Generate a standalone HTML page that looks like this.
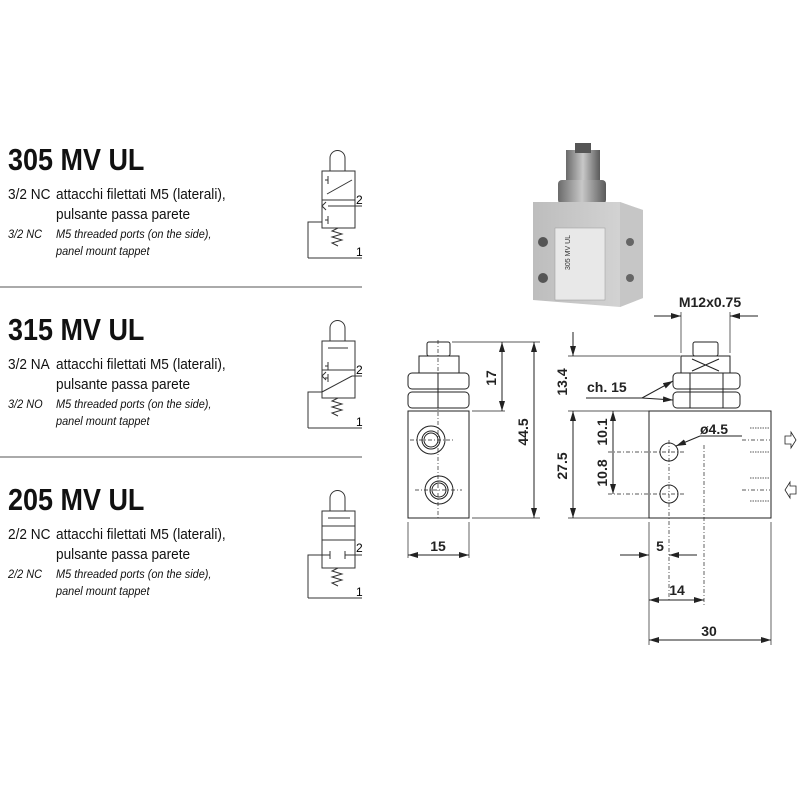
<!DOCTYPE html>
<html><head><meta charset="utf-8"><style>
html,body{margin:0;padding:0;background:#fff;}
body{width:800px;height:800px;position:relative;overflow:hidden;font-family:"Liberation Sans Narrow","Liberation Sans",sans-serif;color:#111;}
.t{position:absolute;left:8px;font-weight:bold;font-size:31px;letter-spacing:0px;transform:scaleX(0.87);transform-origin:left;}
.l{position:absolute;font-size:14.5px;white-space:nowrap;transform:scaleX(0.94);transform-origin:left;}
.i{position:absolute;font-size:11.5px;font-style:italic;white-space:nowrap;transform:scaleX(0.95);transform-origin:left;}
</style></head><body>
<div class="t" style="top:142px">305 MV UL</div>
<div class="l" style="left:8px;top:187px">3/2 NC</div>
<div class="l" style="left:56px;top:187px">attacchi filettati M5 (laterali),</div>
<div class="l" style="left:56px;top:207px">pulsante passa parete</div>
<div class="i" style="left:8px;top:229px">3/2 NC</div>
<div class="i" style="left:56px;top:229px">M5 threaded ports (on the side),</div>
<div class="i" style="left:56px;top:246px">panel mount tappet</div>

<div class="t" style="top:312px">315 MV UL</div>
<div class="l" style="left:8px;top:357px">3/2 NA</div>
<div class="l" style="left:56px;top:357px">attacchi filettati M5 (laterali),</div>
<div class="l" style="left:56px;top:377px">pulsante passa parete</div>
<div class="i" style="left:8px;top:399px">3/2 NO</div>
<div class="i" style="left:56px;top:399px">M5 threaded ports (on the side),</div>
<div class="i" style="left:56px;top:416px">panel mount tappet</div>

<div class="t" style="top:482px">205 MV UL</div>
<div class="l" style="left:8px;top:527px">2/2 NC</div>
<div class="l" style="left:56px;top:527px">attacchi filettati M5 (laterali),</div>
<div class="l" style="left:56px;top:547px">pulsante passa parete</div>
<div class="i" style="left:8px;top:569px">2/2 NC</div>
<div class="i" style="left:56px;top:569px">M5 threaded ports (on the side),</div>
<div class="i" style="left:56px;top:586px">panel mount tappet</div>

<svg width="800" height="800" style="position:absolute;left:0;top:0" font-family="Liberation Sans, sans-serif">
<defs>
<marker id="a" markerWidth="10" markerHeight="6" refX="10" refY="3" orient="auto-start-reverse" markerUnits="userSpaceOnUse"><path d="M0,0 L10,3 L0,6z" fill="#222"/></marker>
<linearGradient id="g1" x1="0" x2="1"><stop offset="0" stop-color="#bdbdbd"/><stop offset="1" stop-color="#d8d8d8"/></linearGradient>
<linearGradient id="g2" x1="0" x2="1"><stop offset="0" stop-color="#6a6a6a"/><stop offset="0.5" stop-color="#c8c8c8"/><stop offset="1" stop-color="#5a5a5a"/></linearGradient>
</defs>
<line x1="0" y1="287" x2="362" y2="287" stroke="#555"/>
<line x1="0" y1="457" x2="362" y2="457" stroke="#555"/>
<!-- symbol 305 -->
<g fill="none" stroke="#333" stroke-width="1">
<path d="M330,171 V158 a7.5,7.5 0 0 1 15,0 V171"/>
<rect x="322" y="171" width="33" height="57"/><line x1="322" y1="200" x2="355" y2="200"/>
<line x1="327" y1="194" x2="352" y2="180"/><path d="M328,176 v8 M328,180 h-3"/>
<line x1="328" y1="206" x2="362" y2="206"/><path d="M326,202 l-4,4 l4,4"/>
<path d="M328,216 v8 M328,220 h-3"/>
<path d="M308,258 V222 H322 M308,258 H362"/>
<path d="M338,228 l-6,3 l10,3 l-10,3 l10,3 l-10,3 l6,3"/>
</g>
<text x="356" y="204" font-size="12">2</text><text x="356" y="256" font-size="12">1</text>
<!-- symbol 315 -->
<g fill="none" stroke="#333" stroke-width="1">
<path d="M330,341 V328 a7.5,7.5 0 0 1 15,0 V341"/>
<rect x="322" y="341" width="33" height="57"/><line x1="322" y1="370" x2="355" y2="370"/>
<path d="M328,348 h20 M328,362 v8 M328,366 h-3 M328,374 v8 M328,378 h-3"/>
<path d="M326,372 l-4,4 l4,4"/>
<line x1="322" y1="392" x2="352" y2="376"/><line x1="352" y1="376" x2="362" y2="376"/>
<path d="M308,428 V392 H322 M308,428 H362"/>
<path d="M338,398 l-6,3 l10,3 l-10,3 l10,3 l-10,3 l6,3"/>
</g>
<text x="356" y="374" font-size="12">2</text><text x="356" y="426" font-size="12">1</text>
<!-- symbol 205 -->
<g fill="none" stroke="#333" stroke-width="1">
<path d="M330,511 V498 a7.5,7.5 0 0 1 15,0 V511"/>
<rect x="322" y="511" width="33" height="57"/><line x1="322" y1="526" x2="355" y2="526"/><line x1="322" y1="540" x2="355" y2="540"/>
<path d="M328,518 h22"/>
<path d="M308,598 V555 H330 M330,551 v8 M345,551 v8 M345,555 H362 M308,598 H362"/>
<path d="M338,568 l-6,3 l10,3 l-10,3 l10,3 l-10,3 l6,3"/>
</g>
<text x="356" y="552" font-size="12">2</text><text x="356" y="596" font-size="12">1</text>

<!-- photo -->
<rect x="566" y="150" width="34" height="50" fill="url(#g2)"/>
<rect x="575" y="143" width="16" height="10" fill="#555"/>
<rect x="558" y="180" width="48" height="24" rx="4" fill="url(#g2)"/>
<polygon points="533,202 620,202 643,210 643,298 620,307 533,300" fill="url(#g1)"/>
<polygon points="620,202 643,210 643,298 620,307" fill="#c6c6c6"/>
<rect x="555" y="228" width="50" height="72" fill="#e8e8e8" stroke="#999" stroke-width="0.5"/>
<text x="570" y="270" font-size="7" transform="rotate(-90 570 270)" fill="#333">305 MV UL</text>
<circle cx="543" cy="242" r="5" fill="#555"/><circle cx="543" cy="278" r="5" fill="#555"/>
<circle cx="630" cy="242" r="4" fill="#666"/><circle cx="630" cy="278" r="4" fill="#666"/>

<g fill="none" stroke="#222" stroke-width="1">
<!-- left view -->
<rect x="408" y="411" width="61" height="107" fill="#fff"/>
<rect x="427" y="342" width="23" height="14" rx="2"/>
<rect x="419" y="356" width="40" height="17"/>
<rect x="408" y="373" width="61" height="16" rx="4"/>
<rect x="408" y="392" width="61" height="16" rx="4"/>
<line x1="438" y1="373" x2="438" y2="408"/>
<circle cx="431" cy="440" r="14"/><circle cx="431" cy="440" r="9"/><circle cx="431" cy="440" r="7"/>
<circle cx="439" cy="490" r="14"/><circle cx="439" cy="490" r="9"/><circle cx="439" cy="490" r="7"/>
<g stroke-dasharray="4,2,1,2" stroke-width="0.7"><line x1="438" y1="340" x2="438" y2="520"/><line x1="410" y1="440" x2="455" y2="440"/><line x1="415" y1="490" x2="462" y2="490"/></g>
<line x1="452" y1="342" x2="540" y2="342" stroke-width="0.7"/>
<line x1="472" y1="411" x2="505" y2="411" stroke-width="0.7"/>
<line x1="472" y1="518" x2="540" y2="518" stroke-width="0.7"/>
<line x1="502" y1="342" x2="502" y2="411" marker-start="url(#a)" marker-end="url(#a)"/>
<line x1="534" y1="342" x2="534" y2="518" marker-start="url(#a)" marker-end="url(#a)"/>
<line x1="408" y1="522" x2="408" y2="558" stroke-width="0.7"/><line x1="469" y1="522" x2="469" y2="558" stroke-width="0.7"/>
<line x1="408" y1="555" x2="469" y2="555" marker-start="url(#a)" marker-end="url(#a)"/>
<!-- right view -->
<rect x="649" y="411" width="122" height="107" fill="#fff"/>
<rect x="693" y="342" width="25" height="14" rx="2"/>
<rect x="681" y="356" width="49" height="17"/>
<path d="M692,359 L719,371 M719,359 L692,371"/>
<rect x="673" y="373" width="67" height="16" rx="4"/>
<rect x="673" y="392" width="67" height="16" rx="4"/>
<line x1="690" y1="373" x2="690" y2="408"/><line x1="723" y1="373" x2="723" y2="408"/>
<circle cx="669" cy="452" r="9"/><circle cx="669" cy="494" r="9"/>
<g stroke-dasharray="4,2,1,2" stroke-width="0.7"><line x1="669" y1="440" x2="669" y2="600"/><line x1="608" y1="452" x2="686" y2="452"/><line x1="608" y1="494" x2="686" y2="494"/><line x1="704" y1="445" x2="704" y2="605"/><line x1="742" y1="440" x2="770" y2="440"/><line x1="742" y1="490" x2="770" y2="490"/></g>
<g stroke-dasharray="1.5,1" stroke-width="0.7"><line x1="750" y1="428" x2="770" y2="428"/><line x1="750" y1="452" x2="770" y2="452"/><line x1="750" y1="478" x2="770" y2="478"/><line x1="750" y1="501" x2="770" y2="501"/></g>
<path d="M785,436 h6 v-4 l5,8 l-5,8 v-4 h-6z" stroke-width="0.8"/>
<path d="M796,486 h-6 v-4 l-5,8 l5,8 v-4 h6z" stroke-width="0.8"/>
<line x1="568" y1="356" x2="680" y2="356" stroke-width="0.7"/>
<line x1="568" y1="411" x2="649" y2="411" stroke-width="0.7"/>
<line x1="568" y1="518" x2="649" y2="518" stroke-width="0.7"/>
<line x1="573" y1="332" x2="573" y2="356" marker-end="url(#a)"/>
<line x1="573" y1="411" x2="573" y2="518" marker-start="url(#a)" marker-end="url(#a)"/>
<line x1="613" y1="411" x2="613" y2="494" marker-start="url(#a)" marker-end="url(#a)"/>
<line x1="681" y1="312" x2="681" y2="353" stroke-width="0.7"/><line x1="730" y1="312" x2="730" y2="353" stroke-width="0.7"/>
<line x1="654" y1="316" x2="681" y2="316" marker-end="url(#a)"/><line x1="758" y1="316" x2="730" y2="316" marker-end="url(#a)"/>
<line x1="586" y1="398" x2="642" y2="398"/>
<line x1="642" y1="398" x2="673" y2="381" marker-end="url(#a)"/>
<line x1="642" y1="398" x2="673" y2="400" marker-end="url(#a)"/>
<line x1="742" y1="436" x2="700" y2="436"/><line x1="700" y1="436" x2="676" y2="446" marker-end="url(#a)"/>
<line x1="649" y1="522" x2="649" y2="645" stroke-width="0.7"/><line x1="771" y1="522" x2="771" y2="645" stroke-width="0.7"/>
<line x1="620" y1="555" x2="649" y2="555" marker-end="url(#a)"/><line x1="697" y1="555" x2="669" y2="555" marker-end="url(#a)"/>
<line x1="649" y1="600" x2="704" y2="600" marker-start="url(#a)" marker-end="url(#a)"/>
<line x1="649" y1="640" x2="771" y2="640" marker-start="url(#a)" marker-end="url(#a)"/>
</g>
<g font-size="14" font-weight="bold" fill="#222">
<text x="496" y="378" transform="rotate(-90 496 378)" text-anchor="middle">17</text>
<text x="528" y="432" transform="rotate(-90 528 432)" text-anchor="middle">44.5</text>
<text x="438" y="551" text-anchor="middle">15</text>
<text x="567" y="382" transform="rotate(-90 567 382)" text-anchor="middle">13.4</text>
<text x="567" y="466" transform="rotate(-90 567 466)" text-anchor="middle">27.5</text>
<text x="607" y="432" transform="rotate(-90 607 432)" text-anchor="middle">10.1</text>
<text x="607" y="473" transform="rotate(-90 607 473)" text-anchor="middle">10.8</text>
<text x="710" y="307" text-anchor="middle">M12x0.75</text>
<text x="587" y="392">ch. 15</text>
<text x="700" y="434">ø4.5</text>
<text x="660" y="551" text-anchor="middle">5</text>
<text x="677" y="595" text-anchor="middle">14</text>
<text x="709" y="636" text-anchor="middle">30</text>
</g>
</svg>
</body></html>
